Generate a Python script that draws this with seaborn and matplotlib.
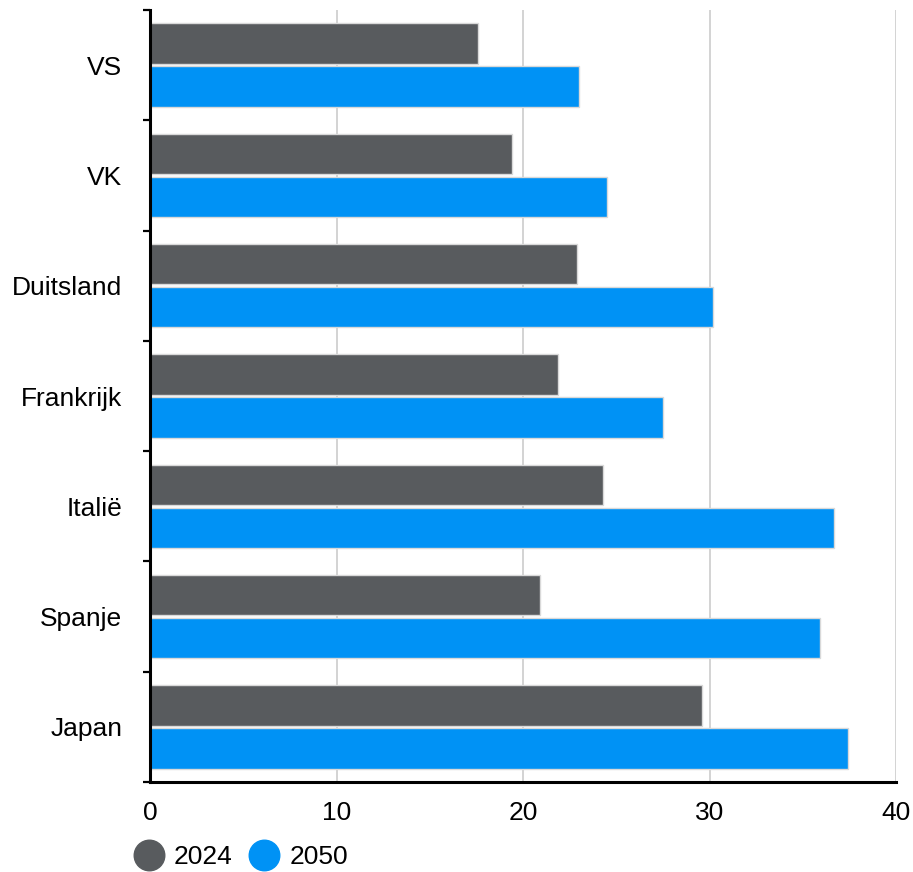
import matplotlib
matplotlib.use("Agg")
import matplotlib.pyplot as plt
from matplotlib.lines import Line2D
from matplotlib.ticker import FixedLocator
import seaborn as sns
import pandas as pd

countries = ["VS", "VK", "Duitsland", "Frankrijk", "Italië", "Spanje", "Japan"]
values_2024 = [17.6, 19.4, 22.9, 21.9, 24.3, 20.9, 29.6]
values_2050 = [23.0, 24.5, 30.2, 27.5, 36.7, 35.9, 37.4]
years = ["2024", "2050"]
colors = ["#585b5e", "#0092f5"]
x_ticks = [0, 10, 20, 30, 40]

df = pd.DataFrame({
    "land": countries * 2,
    "jaar": [years[0]] * len(countries) + [years[1]] * len(countries),
    "waarde": values_2024 + values_2050,
})

sns.set_theme(style="white")
plt.rcParams["font.family"] = ["Liberation Sans", "DejaVu Sans"]
plt.rcParams["text.color"] = "black"
plt.rcParams["xtick.color"] = "black"
plt.rcParams["ytick.color"] = "black"
plt.rcParams["axes.labelcolor"] = "black"

fig = plt.figure(figsize=(9.13, 8.72), dpi=100)
ax = fig.add_axes([150 / 913, 1 - 782 / 872, (896 - 150) / 913, (782 - 10) / 872])

sns.barplot(
    data=df, y="land", x="waarde", hue="jaar", order=countries,
    hue_order=years, palette=colors, saturation=1, orient="h", width=0.78, gap=0.06,
    edgecolor="#d9d9d9", linewidth=1.0, legend=False, ax=ax, zorder=3,
)

ax.set_xlim(0, 40)
ax.set_ylim(len(countries) - 0.5, -0.5)
ax.set_xticks(x_ticks)
ax.set_xticklabels([str(t) for t in x_ticks], fontsize=19)
ax.tick_params(axis="x", length=0, pad=14, labelcolor="black")
ax.tick_params(axis="y", which="major", length=0, pad=20, labelsize=19, labelcolor="black")
ax.yaxis.set_minor_locator(FixedLocator([i - 0.5 for i in range(len(countries) + 1)]))
ax.tick_params(axis="y", which="minor", length=5, width=1.6, color="black", left=True)
ax.set_xlabel("")
ax.set_ylabel("")

ax.grid(axis="x", color="#d0d0d0", linewidth=1.3, zorder=0)
ax.set_axisbelow(True)
for side in ("top", "right"):
    ax.spines[side].set_visible(False)
for side in ("left", "bottom"):
    ax.spines[side].set_color("black")
    ax.spines[side].set_linewidth(2.2)
    ax.spines[side].set_zorder(5)

handles = [
    Line2D([], [], marker="o", linestyle="", markersize=22,
           markerfacecolor=c, markeredgecolor=c, label=y)
    for y, c in zip(years, colors)
]
fig.legend(
    handles=handles, loc="center left", bbox_to_anchor=(133 / 913, 1 - 857 / 872),
    frameon=False, ncol=2, fontsize=19, handletextpad=0.35, columnspacing=0.6,
    handlelength=1.2, borderaxespad=0, borderpad=0, labelcolor="black",
)

fig.savefig("out.png", dpi=100)
